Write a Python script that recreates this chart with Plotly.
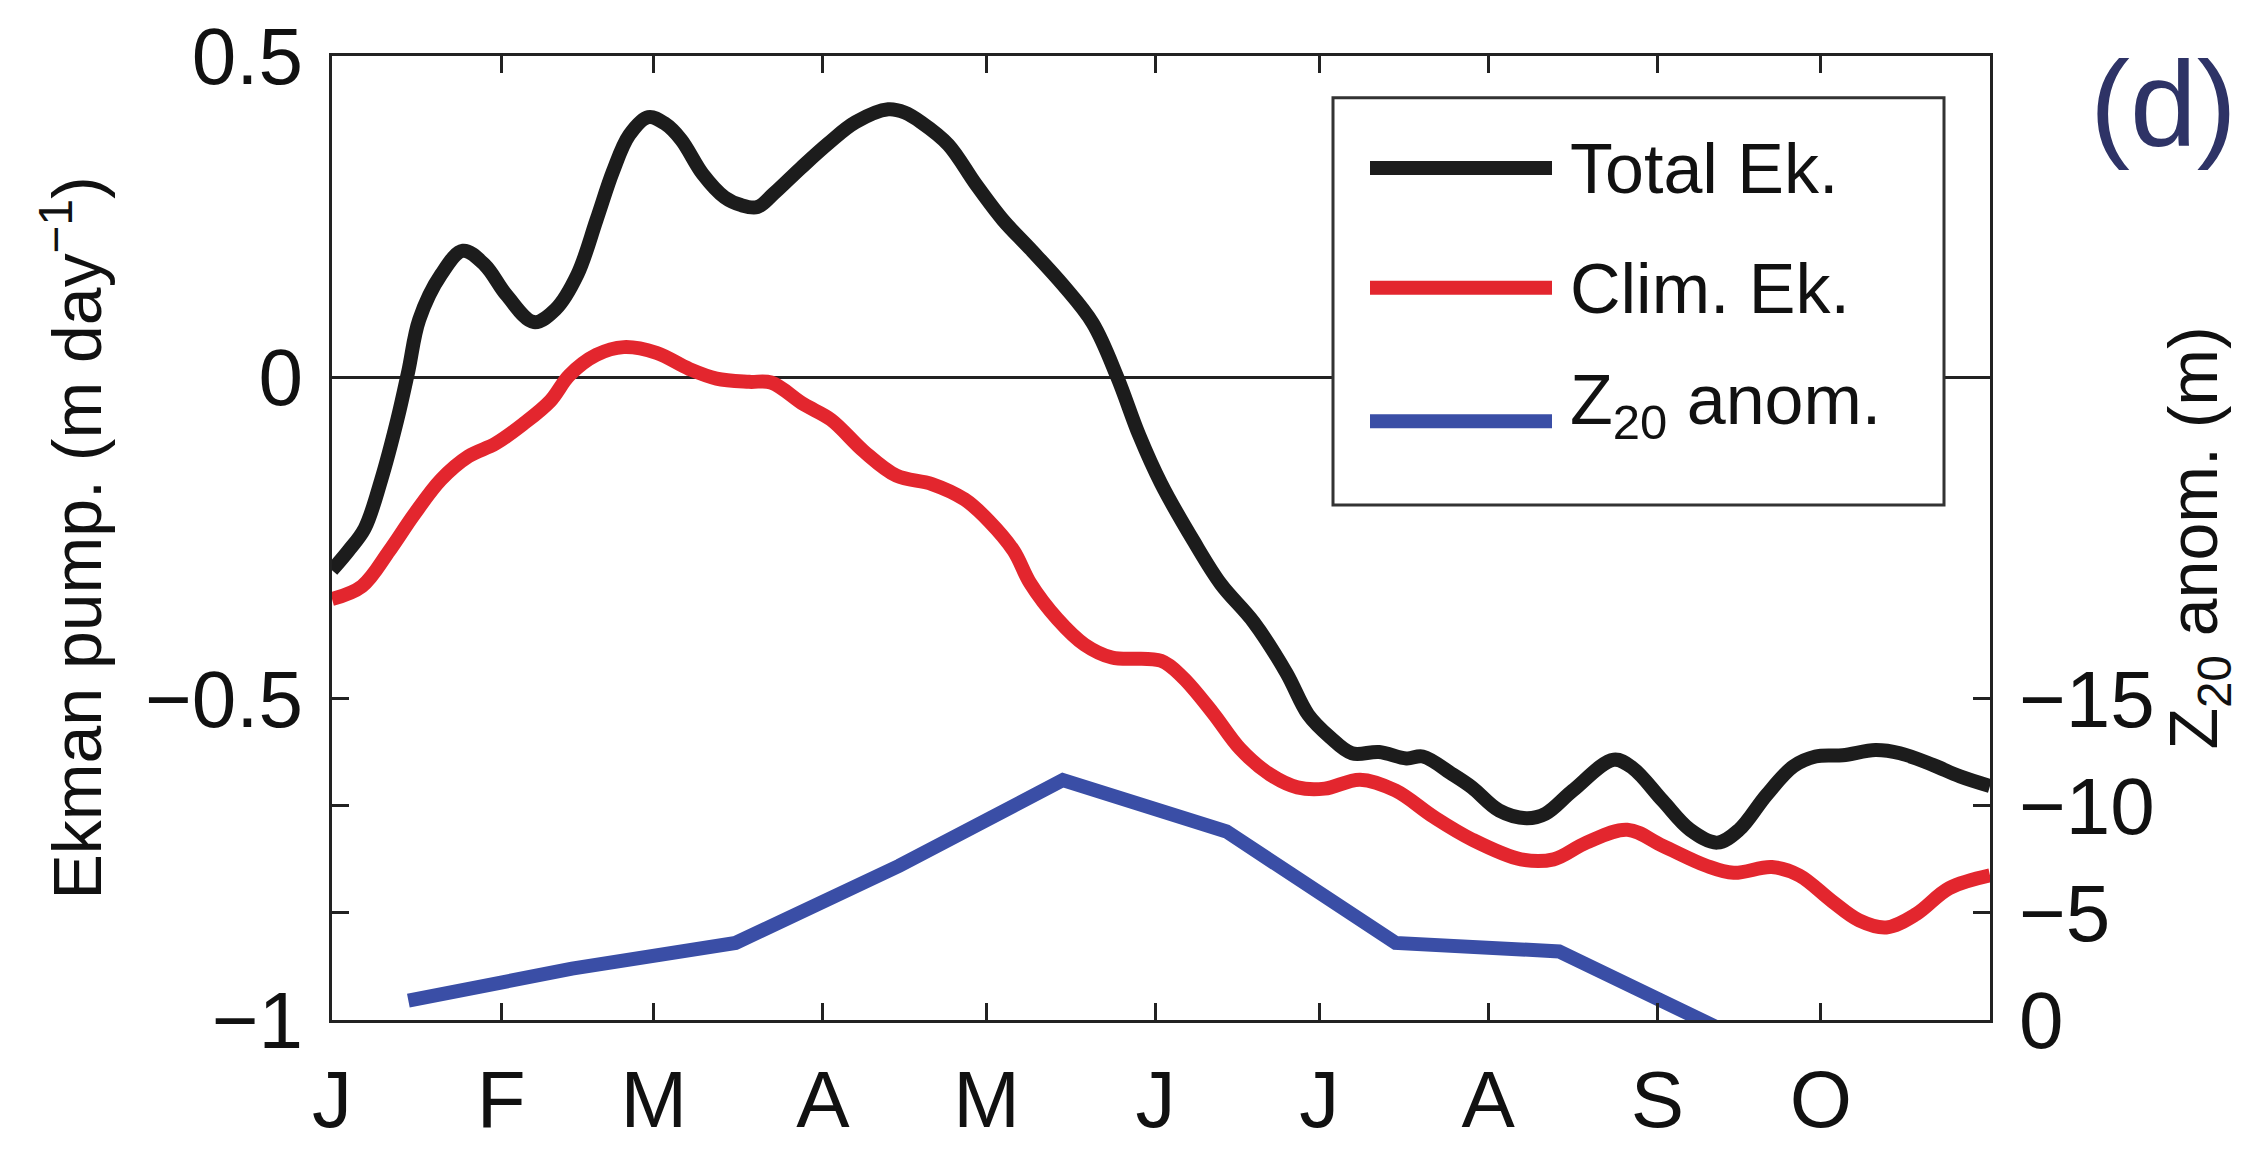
import plotly.graph_objects as go

# ---------------- data (day of year) ----------------
total_day = [0, 3, 6, 9, 12, 14, 16, 20, 24, 28, 32, 37, 41, 45, 48.5, 51.5, 54.5, 58,
             61, 64, 68, 72, 75, 78, 81, 86, 91, 96, 102, 105, 108, 113, 118, 123, 128,
             134, 139.5, 144, 148, 152, 158, 163, 169, 175, 179, 183, 187, 192, 197,
             200, 205.5, 209, 214, 219, 222.5, 227.5, 235, 238.5, 244, 249, 254, 258,
             263, 268, 272, 277, 283, 287.5, 293.5, 298.5, 304]
total_ek = [-0.30, -0.27, -0.235, -0.16, -0.065, 0.01, 0.09, 0.16, 0.197, 0.175, 0.128,
            0.086, 0.106, 0.16, 0.245, 0.32, 0.377, 0.405, 0.395, 0.37, 0.316, 0.28,
            0.268, 0.265, 0.286, 0.326, 0.364, 0.397, 0.417, 0.412, 0.397, 0.362, 0.301,
            0.245, 0.20, 0.144, 0.084, 0.0, -0.09, -0.165, -0.255, -0.322, -0.381,
            -0.46, -0.525, -0.56, -0.585, -0.583, -0.593, -0.59, -0.618, -0.638,
            -0.674, -0.686, -0.679, -0.643, -0.595, -0.608, -0.659, -0.704, -0.724,
            -0.704, -0.65, -0.605, -0.59, -0.588, -0.58, -0.585, -0.603, -0.621, -0.636]

clim_day = [0, 5.5, 10.5, 15, 20, 25, 30, 35, 40, 43.5, 48.5, 53.5, 59.5, 65.5, 70.5,
            76.5, 80.5, 86.5, 91.5, 97.5, 103.5, 110, 116, 120.5, 125, 128, 133, 138,
            143, 152, 156, 161.5, 166.5, 172, 177, 182, 188.5, 195, 202, 209, 218, 224,
            230, 237.5, 244, 252, 257, 264, 269, 275, 280, 285, 290.5, 296.5, 304]
clim_ek = [-0.345, -0.325, -0.27, -0.214, -0.159, -0.123, -0.103, -0.073, -0.037, 0.003,
           0.035, 0.047, 0.038, 0.013, -0.002, -0.007, -0.008, -0.042, -0.066, -0.115,
           -0.153, -0.166, -0.19, -0.224, -0.27, -0.32, -0.376, -0.416, -0.436, -0.441,
           -0.467, -0.522, -0.578, -0.618, -0.638, -0.64, -0.626, -0.643, -0.684,
           -0.719, -0.75, -0.75, -0.724, -0.704, -0.729, -0.76, -0.771, -0.762, -0.775,
           -0.815, -0.845, -0.856, -0.835, -0.795, -0.775]

z20_day = [14, 44, 74, 104, 134, 164, 195, 225, 256]
z20_anom = [-0.9, -2.4, -3.6, -7.2, -11.2, -8.8, -3.6, -3.2, 0.6]

month_start = [0, 31, 59, 90, 120, 151, 181, 212, 243, 273]
month_labels = ["J", "F", "M", "A", "M", "J", "J", "A", "S", "O"]
left_tickvals = [-1, -0.5, 0, 0.5]
left_ticktext = ["\u22121", "\u22120.5", "0", "0.5"]
right_tickvals = [0, -5, -10, -15]
right_ticktext = ["0", "\u22125", "\u221210", "\u221215"]

series_names = ["Total Ek.", "Clim. Ek.", "Z<sub>20</sub> anom."]
series_colors = ["#1c1c1c", "#e3262e", "#3a4ea6"]

FONT = "Liberation Sans, Arial, Helvetica, sans-serif"
W, H = 2247, 1156
L, R, T, B = 332, 1990, 52, 1042
LW = 14

fig = go.Figure()
fig.add_trace(go.Scatter(x=total_day, y=total_ek, mode="lines", name="Total Ek.",
                         line=dict(color=series_colors[0], width=LW, shape="spline", smoothing=1.0),
                         showlegend=False))
fig.add_trace(go.Scatter(x=clim_day, y=clim_ek, mode="lines", name="Clim. Ek.",
                         line=dict(color=series_colors[1], width=LW, shape="spline", smoothing=1.0),
                         showlegend=False))
fig.add_trace(go.Scatter(x=z20_day, y=z20_anom, mode="lines", name="Z20 anom.", yaxis="y2",
                         line=dict(color=series_colors[2], width=LW),
                         showlegend=False))


def px_x(px):
    return (px - L) / (R - L)


def px_y(py):
    return (B - py) / (B - T)


# MATLAB-style legend box with long line samples
shapes = [dict(type="rect", xref="paper", yref="paper",
               x0=px_x(1333), x1=px_x(1944), y0=px_y(513), y1=px_y(95),
               line=dict(color="#333333", width=3), fillcolor="white", layer="above")]
annotations = []
line_y = [167, 290, 427]
text_y = [168, 291, 410]
for name, col, ly, ty in zip(series_names, series_colors, line_y, text_y):
    shapes.append(dict(type="line", xref="paper", yref="paper",
                       x0=px_x(1370), x1=px_x(1552), y0=px_y(ly), y1=px_y(ly),
                       line=dict(color=col, width=LW), layer="above"))
    annotations.append(dict(xref="paper", yref="paper", x=px_x(1568), y=px_y(ty),
                            text=name, showarrow=False, xanchor="left", yanchor="middle",
                            font=dict(family=FONT, size=70, color="#111111")))

annotations.append(dict(xref="paper", yref="paper", x=px_x(2163), y=px_y(100),
                        text="(d)", showarrow=False, xanchor="center", yanchor="middle",
                        font=dict(family=FONT, size=120, color="#2e3366")))

axis_common = dict(ticks="inside", ticklen=17, tickwidth=3, tickcolor="#222222",
                   showline=True, linecolor="#222222", linewidth=3, showgrid=False,
                   tickfont=dict(family=FONT, size=80, color="#111111"))

fig.update_layout(
    width=W, height=H,
    margin=dict(l=L, r=W - R, t=T, b=H - B, pad=0),
    paper_bgcolor="white", plot_bgcolor="white",
    font=dict(family=FONT, color="#111111"),
    showlegend=False,
    xaxis=dict(range=[0, 304], tickmode="array", tickvals=month_start, ticktext=month_labels,
               mirror="ticks", zeroline=False, ticklabelstandoff=8, **axis_common),
    yaxis=dict(range=[-1, 0.5], tickmode="array", tickvals=left_tickvals, ticktext=left_ticktext,
               mirror="ticks", zeroline=True, zerolinecolor="#222222", zerolinewidth=3,
               ticklabelstandoff=10,
               title=dict(text="Ekman pump. (m day<sup>\u22121</sup>)", standoff=22,
                          font=dict(family=FONT, size=68, color="#111111")),
               **axis_common),
    yaxis2=dict(range=[0, -45], overlaying="y", side="right", anchor="x", tickmode="array",
                tickvals=right_tickvals, ticktext=right_ticktext, mirror="ticks",
                zeroline=False, ticklabelstandoff=10,
                title=dict(text="Z<sub>20</sub> anom. (m)", standoff=12,
                           font=dict(family=FONT, size=68, color="#111111")),
                **axis_common),
    shapes=shapes,
    annotations=annotations,
)

fig.write_html("out.html")
